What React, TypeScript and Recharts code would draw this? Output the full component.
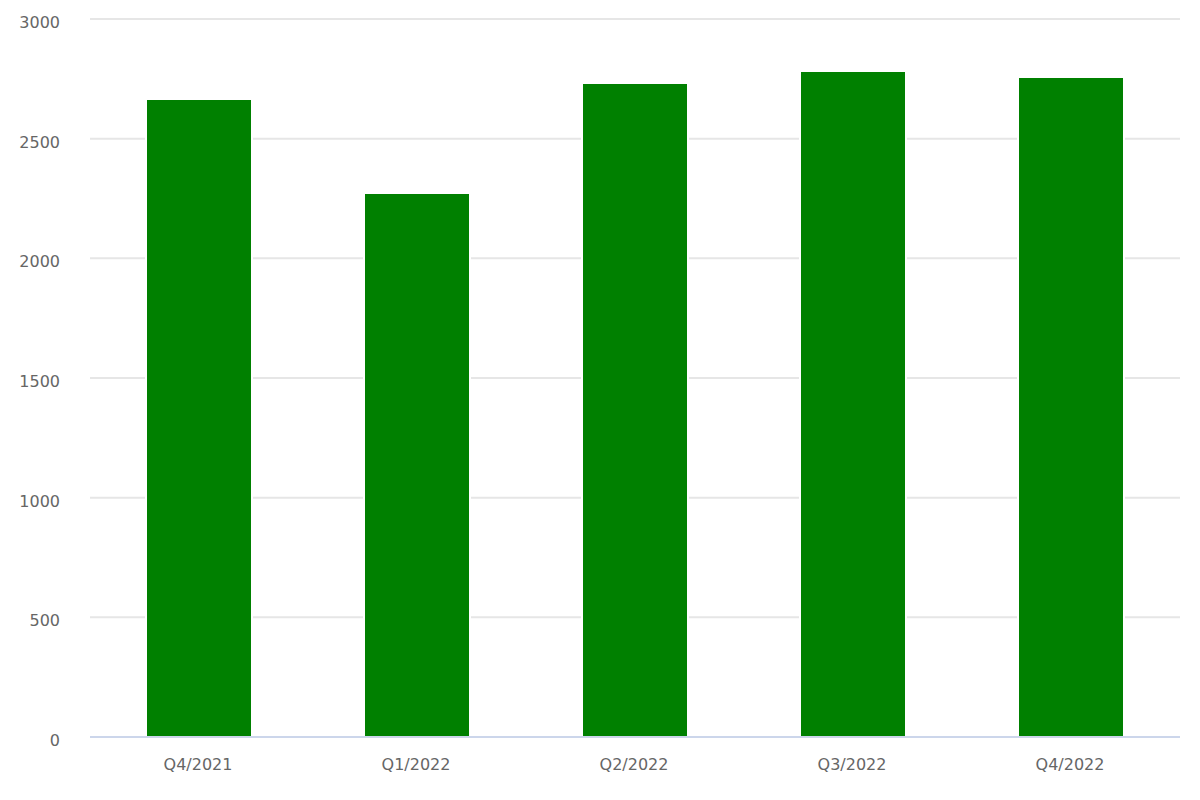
import React from 'react';
import { BarChart, Bar, XAxis, YAxis, CartesianGrid } from 'recharts';

// Quarter labels and values
const QUARTERS = ['Q4/2021', 'Q1/2022', 'Q2/2022', 'Q3/2022', 'Q4/2022'];
const VALUES = [2666, 2273, 2733, 2783, 2758];
const Y_TICKS = [0, 500, 1000, 1500, 2000, 2500, 3000];

const data = QUARTERS.map((quarter, i) => ({ quarter, value: VALUES[i] }));

const FONT = '"DejaVu Sans", Verdana, sans-serif';

const XTick = (props: any) => {
  const { x, y, payload } = props;
  return (
    <text x={x - 1} y={y + 25} textAnchor="middle" fill="#666666" fontSize={16} fontFamily={FONT}>
      {payload.value}
    </text>
  );
};

const YTick = (props: any) => {
  const { y, payload } = props;
  return (
    <text x={60} y={y + 9} textAnchor="end" fill="#666666" fontSize={16} fontFamily={FONT}>
      {payload.value}
    </text>
  );
};

const App: React.FC = () => {
  return (
    <div style={{ margin: -8, width: 1200, height: 800, background: '#ffffff' }}>
      <BarChart
        width={1200}
        height={800}
        data={data}
        margin={{ top: 19, right: 20, left: 0, bottom: 0 }}
        barCategoryGap={0}
      >
        <CartesianGrid vertical={false} stroke="#e6e6e6" strokeWidth={2} />
        <XAxis
          dataKey="quarter"
          height={63}
          tick={<XTick />}
          tickLine={false}
          axisLine={{ stroke: '#ccd6eb', strokeWidth: 2 }}
          interval={0}
        />
        <YAxis
          width={90}
          domain={[0, 3000]}
          ticks={Y_TICKS}
          tick={<YTick />}
          tickLine={false}
          axisLine={false}
          interval={0}
        />
        <Bar
          dataKey="value"
          fill="#008000"
          stroke="#ffffff"
          strokeWidth={2}
          barSize={106}
          isAnimationActive={false}
        />
      </BarChart>
    </div>
  );
};

export default App;
